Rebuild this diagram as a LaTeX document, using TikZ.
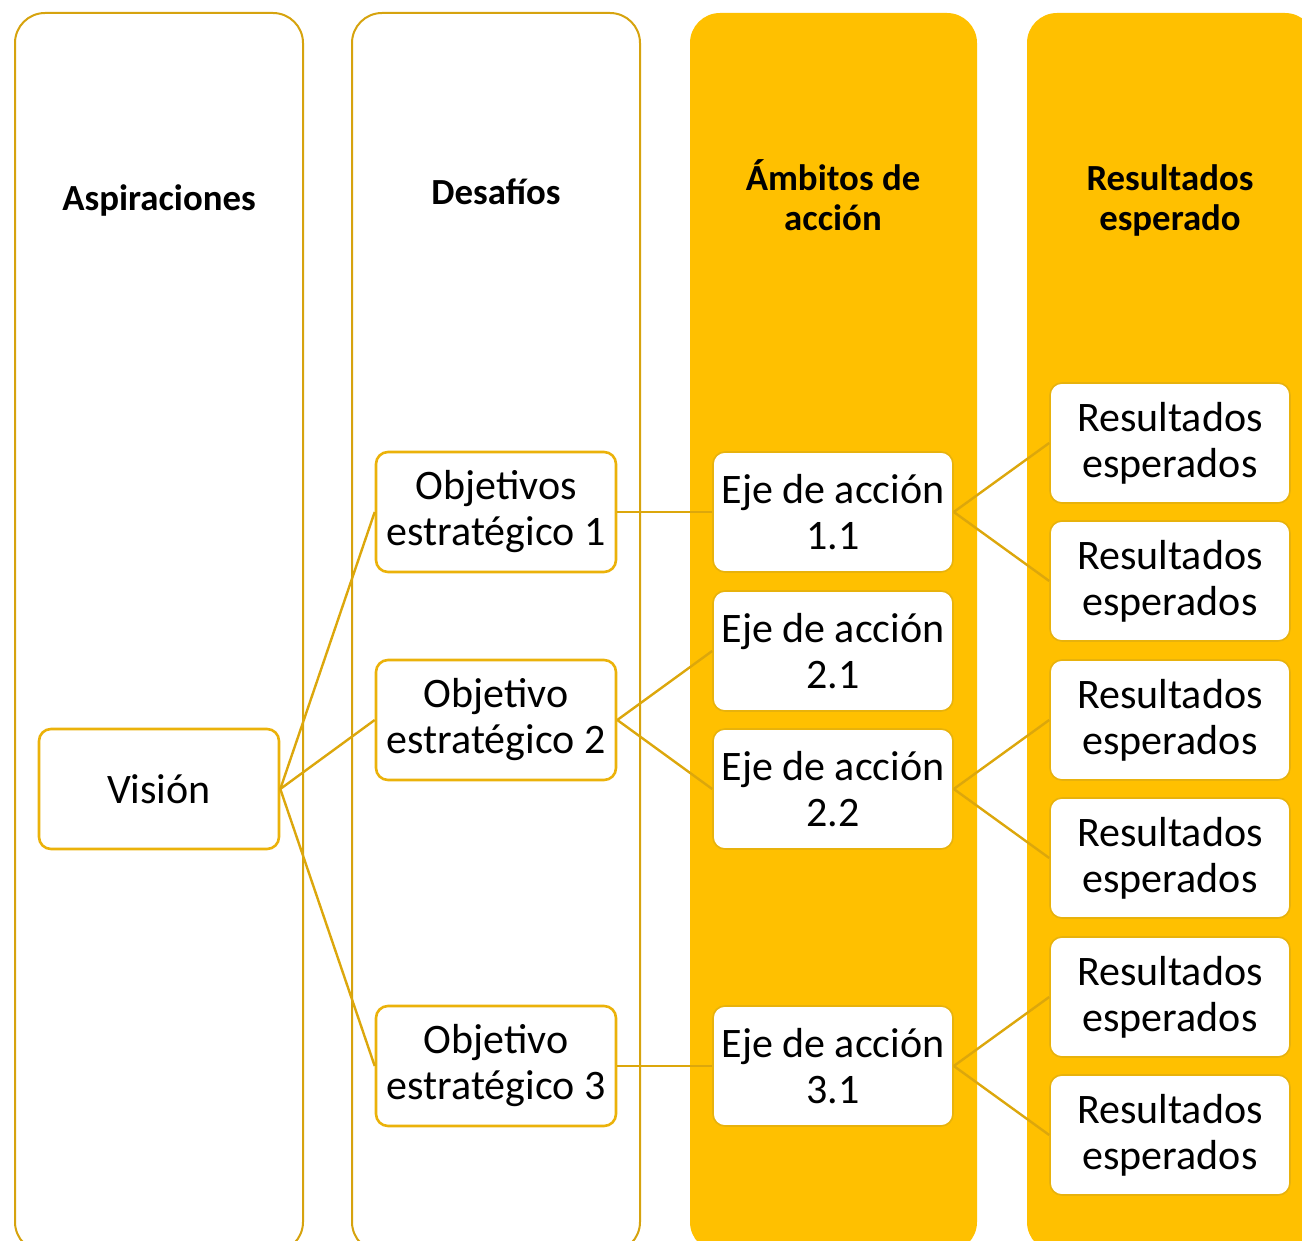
\documentclass[tikz,border=0pt]{standalone}
\usepackage{fontspec}
\setmainfont{Carlito}
\usetikzlibrary{positioning}
\definecolor{colline}{HTML}{D6A30E}
\definecolor{colfill}{HTML}{FFC000}
\definecolor{boxline}{HTML}{EBB20A}
\definecolor{boxliney}{HTML}{E8B20C}
\definecolor{linkline}{HTML}{DCA70C}

\begin{document}
\begin{tikzpicture}[x=0.5pt, y=-0.5pt,
		column/.style={draw=colline, line width=1pt, rounded corners=15pt},
		fullcol/.style={fill=colfill, rounded corners=15pt},
		head/.style={font=\fontsize{18.4}{20}\selectfont\bfseries, align=center},
		whitebox/.style={draw=boxline, fill=white, line width=1.3pt, rounded corners=6pt,
			minimum width=120pt, minimum height=60pt, inner sep=0pt,
			align=center, font=\fontsize{21}{23}\selectfont},
		yellowbox/.style={whitebox, draw=boxliney, line width=0.8pt},
		link/.style={draw=linkline, line width=1.2pt}]
		\useasboundingbox (0,0) rectangle (1302,1241);
		\clip (0,0) rectangle (1302,1241);
		
		% Columns
		\draw[column] (15,13) rectangle (303,1252);
		\draw[column] (352,13) rectangle (640,1252);
		\fill[fullcol] (690,13) rectangle (977,1252);
		\fill[fullcol] (1027,13) rectangle (1315,1252);
		
		% Column titles
		\node[head] (hasp) at (159,200) {Aspiraciones};
		\node[head] (hdes) at (496,192) {Desafíos};
		\node[head] (hamb) at (833,195) {Ámbitos de\\acción};
		\node[head] (hres) at (1170,200) {Resultados\\esperado};
		
		% Boxes
		\node[whitebox] (vision) at (159,789) {Visión};
		\node[whitebox] (obj1) at (496,512) {Objetivos\\estratégico 1};
		\node[whitebox] (obj2) at (496,720) {Objetivo\\estratégico 2};
		\node[whitebox] (obj3) at (496,1066) {Objetivo\\estratégico 3};
		
		\node[yellowbox] (eje11) at (833,512) {Eje de acción\\1.1};
		\node[yellowbox] (eje21) at (833,651) {Eje de acción\\2.1};
		\node[yellowbox] (eje22) at (833,789) {Eje de acción\\2.2};
		\node[yellowbox] (eje31) at (833,1066) {Eje de acción\\3.1};
		
		\foreach \i/\y in {1/443, 2/581, 3/720, 4/858, 5/997, 6/1135}
		\node[yellowbox] (res\i) at (1170,\y) {Resultados\\esperados};
		
		% Links
		\draw[link] (vision.east) -- (obj1.west);
		\draw[link] (vision.east) -- (obj2.west);
		\draw[link] (vision.east) -- (obj3.west);
		\draw[link] (obj1.east) -- (eje11.west);
		\draw[link] (obj2.east) -- (eje21.west);
		\draw[link] (obj2.east) -- (eje22.west);
		\draw[link] (obj3.east) -- (eje31.west);
		\draw[link] (eje11.east) -- (res1.west);
		\draw[link] (eje11.east) -- (res2.west);
		\draw[link] (eje22.east) -- (res3.west);
		\draw[link] (eje22.east) -- (res4.west);
		\draw[link] (eje31.east) -- (res5.west);
		\draw[link] (eje31.east) -- (res6.west);
	\end{tikzpicture}
\end{document}
